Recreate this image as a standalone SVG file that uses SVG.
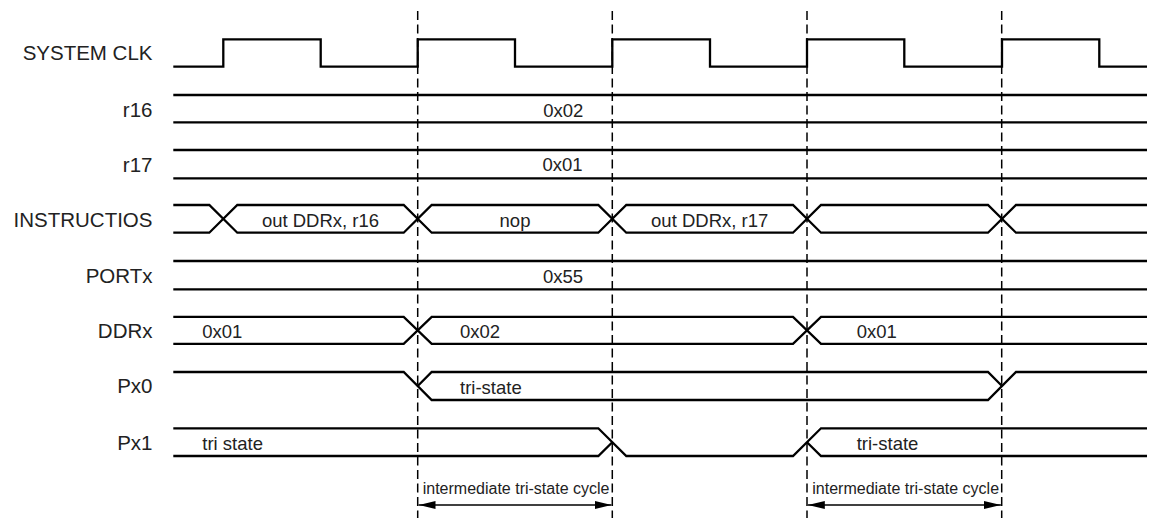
<svg xmlns="http://www.w3.org/2000/svg" width="1149" height="518" viewBox="0 0 1149 518">
<style>
.sig{fill:none;stroke:#000;stroke-width:2.3;stroke-linejoin:miter;stroke-linecap:butt}
.dash{fill:none;stroke:#000;stroke-width:1.5;stroke-dasharray:9 4.5}
.lbl{font-family:"Liberation Sans",Arial,sans-serif;font-size:20.5px;fill:#222;text-anchor:end}
.val{font-family:"Liberation Sans",Arial,sans-serif;font-size:18.5px;fill:#222}
.mid{text-anchor:middle}
.cyc{font-family:"Liberation Sans",Arial,sans-serif;font-size:16px;fill:#222}
.arr{fill:none;stroke:#000;stroke-width:1.5}
</style>
<defs>
<marker id="ah" viewBox="0 0 17 8" refX="17" refY="4" markerWidth="17" markerHeight="8" markerUnits="userSpaceOnUse" orient="auto-start-reverse">
<path d="M0,0 L17,4 L0,8 Z" fill="#000"/>
</marker>
</defs>
<rect width="1149" height="518" fill="#fff"/>

<g id="clk">
<text class="lbl" x="152.5" y="60">SYSTEM CLK</text>
<path class="sig" d="M173.3,66.7 H223.3 V39.3 H320.7 V66.7 H417.7 V39.3 H515 V66.7 H612.3 V39.3 H710 V66.7 H807 V39.3 H904.3 V66.7 H1002 V39.3 H1099.3 V66.7 H1147"/>
</g>

<g id="r16">
<text class="lbl" x="152.5" y="116.5">r16</text>
<path class="sig" d="M173.3,95 H1147 M173.3,122.3 H1147"/>
<text class="val mid" x="563.3" y="116.5">0x02</text>
</g>

<g id="r17">
<text class="lbl" x="152.5" y="172">r17</text>
<path class="sig" d="M173.3,150 H1147 M173.3,178.3 H1147"/>
<text class="val mid" x="562.5" y="171">0x01</text>
</g>

<g id="instr">
<text class="lbl" x="152.5" y="227">INSTRUCTIOS</text>
<path class="sig" d="M173.3,205 H209.3 L237.3,232.7 H403.7 L431.7,205 H598.3 L626.3,232.7 H793 L821,205 H988 L1016,232.7 H1147"/>
<path class="sig" d="M173.3,232.7 H209.3 L237.3,205 H403.7 L431.7,232.7 H598.3 L626.3,205 H793 L821,232.7 H988 L1016,205 H1147"/>
<text class="val mid" x="320.5" y="226.5">out DDRx, r16</text>
<text class="val mid" x="515" y="226.5">nop</text>
<text class="val mid" x="709.7" y="226.5">out DDRx, r17</text>
</g>

<g id="portx">
<text class="lbl" x="152.5" y="283">PORTx</text>
<path class="sig" d="M173.3,261 H1147 M173.3,289.3 H1147"/>
<text class="val mid" x="563" y="282.5">0x55</text>
</g>

<g id="ddrx">
<text class="lbl" x="152.5" y="338">DDRx</text>
<path class="sig" d="M173.3,316.8 H403.7 L431.7,343.8 H793 L821,316.8 H1147"/>
<path class="sig" d="M173.3,343.8 H403.7 L431.7,316.8 H793 L821,343.8 H1147"/>
<text class="val" x="202.3" y="338">0x01</text>
<text class="val" x="460" y="338">0x02</text>
<text class="val" x="856.7" y="338">0x01</text>
</g>

<g id="px0">
<text class="lbl" x="152.5" y="393">Px0</text>
<path class="sig" d="M173.3,372 H403.7 L431.7,400 H988 L1016,372 H1147"/>
<path class="sig" d="M417.7,386 L431.7,372 H988 L1002,386"/>
<text class="val" x="460" y="393.5">tri-state</text>
</g>

<g id="px1">
<text class="lbl" x="152.5" y="449.5">Px1</text>
<path class="sig" d="M173.3,428.3 H598.3 L626.3,456 H793 L821,428.3 H1147"/>
<path class="sig" d="M173.3,456 H598.3 L612.3,442.2"/>
<path class="sig" d="M807,442.2 L821,456 H1147"/>
<text class="val" x="202.3" y="450">tri state</text>
<text class="val" x="856.7" y="449.5">tri-state</text>
</g>

<g id="connectors">
<path class="dash" d="M417.7,11 V518 M612.3,11 V518 M807,11 V518 M1001.7,11 V518"/>
<path class="arr" d="M418.5,505 H611.5" marker-start="url(#ah)" marker-end="url(#ah)"/>
<path class="arr" d="M807.8,505 H1000.9" marker-start="url(#ah)" marker-end="url(#ah)"/>
</g>

<g id="cycle-labels">
<text class="cyc" x="422.7" y="494">intermediate tri-state cycle</text>
<text class="cyc" x="812.3" y="494">intermediate tri-state cycle</text>
</g>
</svg>
